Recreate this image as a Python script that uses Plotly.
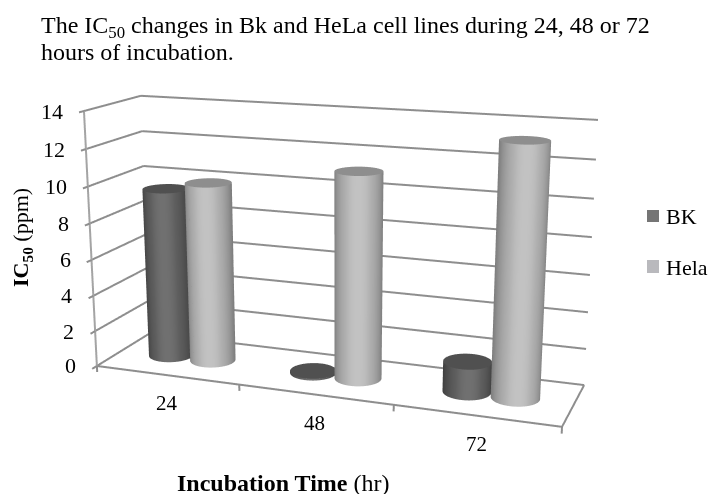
import numpy as np
import plotly.graph_objects as go

categories = ["24", "48", "72"]
bk_values = [9.5, 0.1, 1.65]
hela_values = [10.0, 11.2, 13.3]
y_ticks = [0, 2, 4, 6, 8, 10, 12, 14]

# The page is taller than the window so the 45-degree WebGL camera gets the long lens of the original.
W, FH, SHIFT = 710, 1090, 278
PX = 337
eye = [1.4372, -3.9112, 1.0692]
center = [0.0099, -0.0125, -0.0575]
asp_x, asp_y, asp_z = 1.6, 0.3857, 0.8767

PAD_X, PAD_Y, PAD_Z = 0.02, 0.1, 0.5
BAR_OFF, R_X = 0.15, 0.147
R_Y = R_X * (asp_x / 3) / asp_y

series = [("BK", bk_values, -1, ["#3c3c3c", "#444444", "#505050", "#5f5f5f", "#707070"], "#505050"),
          ("Hela", hela_values, 1, ["#7a7a7a", "#868686", "#9a9a9a", "#b0b0b0", "#c2c2c2"], "#8e8e8e")]
fig = go.Figure()
GRID = "#8e8e8e"


def line(xs, ys, zs, color=GRID, width=4):
    fig.add_trace(go.Scatter3d(x=xs, y=ys, z=zs, mode="lines", line=dict(color=color, width=width),
                               hoverinfo="skip", showlegend=False))


for t in y_ticks:
    line([-.5, 2.5], [.5, .5], [t, t])
    line([-.5, -.5], [-.58, .5], [t, t])
line([-.5, 2.5, 2.5], [-.5, -.5, .5], [0, 0, 0])
line([-.5, -.5], [-.5, -.5], [0, 14], "#a4a4a4")
for k in [-.5, .5, 1.5, 2.5]:
    line([k, k], [-.5, -.5], [0, -.35])

theta = np.linspace(0, 2 * np.pi, 97)
peak = np.radians(-72)
flat = dict(ambient=1, diffuse=0, specular=0, roughness=1, fresnel=0)
for name, values, sgn, cols, topc in series:
    cs = [[0, cols[0]], [.5, cols[0]], [.655, cols[1]], [.8, cols[2]], [.933, cols[3]], [1, cols[4]]]
    for cat, val in enumerate(values):
        cx = cat + sgn * BAR_OFF
        X = np.array([cx + R_X * np.cos(theta)] * 2)
        Y = np.array([R_Y * np.sin(theta)] * 2)
        Z = np.array([np.zeros_like(theta), np.full_like(theta, val)])
        sc = np.cos(theta - peak)[None].repeat(2, 0)
        fig.add_trace(go.Surface(x=X, y=Y, z=Z, surfacecolor=sc, colorscale=cs, cmin=-1, cmax=1, showscale=False,
                                 lighting=flat, hoverinfo="skip"))
        rr = np.array([0, 1.0])
        X = cx + R_X * np.outer(rr, np.cos(theta))
        Y = R_Y * np.outer(rr, np.sin(theta))
        Z = np.full_like(X, val)
        fig.add_trace(go.Surface(x=X, y=Y, z=Z, surfacecolor=np.zeros_like(X), colorscale=[[0, topc], [1, topc]],
                                 showscale=False, lighting=flat, hoverinfo="skip"))

scene_ann = []
for t in y_ticks:
    scene_ann.append(dict(x=-.5, y=-.5, z=t, text=str(t), showarrow=False, xanchor="right", xshift=-19,
                          font=dict(size=22, family="Liberation Serif", color="black")))
for i, cname in enumerate(categories):
    scene_ann.append(dict(x=i, y=-.5, z=0, text=cname, showarrow=False, yshift=-28,
                          font=dict(size=21, family="Liberation Serif", color="black")))

hid = dict(visible=False, showspikes=False)
fig.update_layout(
    width=W, height=FH, margin=dict(l=0, r=0, t=0, b=0, autoexpand=False), paper_bgcolor="white", showlegend=False,
    font=dict(family="Liberation Serif", color="black", size=22),
    scene=dict(
        domain=dict(x=[0, 2 * PX / W], y=[0, 1]),
        xaxis=dict(hid, range=[-.5 - PAD_X, 2.5 + PAD_X]),
        yaxis=dict(hid, range=[-.5 - PAD_Y, .5 + PAD_Y]),
        zaxis=dict(hid, range=[0 - PAD_Z, 14 + PAD_Z]),
        aspectmode="manual",
        aspectratio=dict(x=asp_x * (3 + 2 * PAD_X) / 3, y=asp_y * (1 + 2 * PAD_Y), z=asp_z * (14 + 2 * PAD_Z) / 14),
        camera=dict(eye=dict(x=eye[0], y=eye[1], z=eye[2]), center=dict(x=center[0], y=center[1], z=center[2]),
                    up=dict(x=0, y=0, z=1), projection=dict(type="perspective")),
        annotations=scene_ann,
    ),
)


def px(x):
    return x / W


def py(y):
    return 1 - (y + SHIFT) / FH


texts = [(39, 27, "The IC<sub>50</sub> changes in Bk and HeLa cell lines during 24, 48 or 72", 0, "left", 24),
         (39, 52, "hours of incubation.", 0, "left", 24),
         (283, 483, "<b>Incubation Time</b> (hr)", 0, "center", 24),
         (22, 238, "<b>IC<sub>50</sub></b> (ppm)", -90, "center", 22),
         (664, 216, "BK", 0, "left", 22), (664, 267, "Hela", 0, "left", 22)]
for x, y, t, a, al, sz in texts:
    fig.add_annotation(x=px(x), y=py(y), xref="paper", yref="paper", text=t, textangle=a, showarrow=False,
                       xanchor=al, yanchor="middle", font=dict(size=sz))
for y0, y1, col in [(210, 222, "#757575"), (260, 273, "#b9b9bd")]:
    fig.add_shape(type="rect", xref="paper", yref="paper", x0=px(647), x1=px(659), y0=py(y1), y1=py(y0),
                  fillcolor=col, line=dict(width=0))
fig.write_html("out.html", post_script="document.documentElement.style.overflow='hidden';document.body.style.margin='0';"
               "var g=document.querySelector('.plotly-graph-div');g.style.position='absolute';g.style.left='0';"
               "g.style.top='-%dpx';" % SHIFT)
